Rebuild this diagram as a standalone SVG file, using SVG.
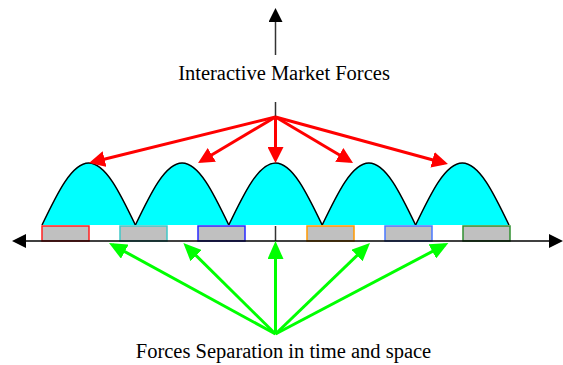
<svg xmlns="http://www.w3.org/2000/svg" width="563" height="365" viewBox="0 0 563 365">
<style>
.hump{fill:#00FFFF;stroke:#000;stroke-width:1.5}
.box{fill:#C0C0C0;stroke-width:1.5}
.lbl{font-family:"Liberation Serif","Times New Roman",serif;font-size:20.5px;fill:#000;text-anchor:middle}
.red{stroke:#FF0000;stroke-width:3;fill:none;marker-end:url(#ar)}
.grn{stroke:#00FF00;stroke-width:3;fill:none;marker-end:url(#ag)}
.blk{stroke:#333;stroke-width:1.5;fill:none}
</style>
<defs>
<marker id="ar" markerUnits="userSpaceOnUse" viewBox="0 0 16 16" markerWidth="16" markerHeight="16" refX="12" refY="8" orient="auto"><path d="M0,0 L16,8 L0,16 z" fill="#FF0000"/></marker>
<marker id="ag" markerUnits="userSpaceOnUse" viewBox="0 0 18 16" markerWidth="18" markerHeight="16" refX="14" refY="8" orient="auto"><path d="M0,0 L18,8 L0,16 z" fill="#00FF00"/></marker>
<marker id="ab" markerUnits="userSpaceOnUse" viewBox="0 0 14 14" markerWidth="14" markerHeight="14" refX="10" refY="7" orient="auto"><path d="M0,0 L14,7 L0,14 z" fill="#000"/></marker>
</defs>
<rect width="563" height="365" fill="#fff"/>
<g id="humps">
<path class="hump" d="M42,225 C57.23,193.24 71.8,163 88.7,163 C105.6,163 120.17,193.24 135.4,225"/>
<path class="hump" d="M135.4,225 C150.63,193.24 165.2,163 182.1,163 C199,163 213.57,193.24 228.8,225"/>
<path class="hump" d="M228.8,225 C244.03,193.24 258.6,163 275.5,163 C292.4,163 306.97,193.24 322.2,225"/>
<path class="hump" d="M322.2,225 C337.43,193.24 352,163 368.9,163 C385.8,163 400.37,193.24 415.6,225"/>
<path class="hump" d="M415.6,225 C430.83,193.24 445.4,163 462.3,163 C479.2,163 493.77,193.24 509,225"/>
</g>
<g id="boxes">
<rect class="box" x="42" y="226" width="47" height="15" stroke="#FF2020"/>
<rect class="box" x="120" y="226" width="47" height="15" stroke="#40C8C8"/>
<rect class="box" x="198" y="226" width="47" height="15" stroke="#2828FF"/>
<rect class="box" x="307" y="226" width="47" height="15" stroke="#FF9900"/>
<rect class="box" x="385" y="226" width="47" height="15" stroke="#4A78FF"/>
<rect class="box" x="463" y="226" width="47" height="15" stroke="#309030"/>
</g>
<g id="axis">
<line class="blk" x1="275.5" y1="226" x2="275.5" y2="241"/>
<line x1="275" y1="241" x2="16" y2="241" stroke="#000" stroke-width="1.5" marker-end="url(#ab)"/>
<line x1="275" y1="241" x2="559" y2="241" stroke="#000" stroke-width="1.5" marker-end="url(#ab)"/>
</g>
<g id="top-label">
<line class="blk" x1="275.5" y1="55" x2="275.5" y2="12" marker-end="url(#ab)"/>
<text class="lbl" x="284" y="80">Interactive Market Forces</text>
<line class="blk" x1="275.5" y1="102" x2="275.5" y2="117"/>
</g>
<g id="bottom-label">
<text class="lbl" x="283.5" y="358">Forces Separation in time and space</text>
</g>
<g id="connectors">
<line class="red" x1="275.5" y1="117" x2="92.9" y2="162"/>
<line class="red" x1="275.5" y1="117" x2="201.5" y2="161"/>
<line class="red" x1="275.5" y1="117" x2="275.5" y2="159"/>
<line class="red" x1="275.5" y1="117" x2="349.6" y2="161"/>
<line class="red" x1="275.5" y1="117" x2="444.1" y2="163"/>
<line class="grn" x1="275.5" y1="334" x2="112.5" y2="244.9"/>
<line class="grn" x1="275.5" y1="334" x2="186.2" y2="245.8"/>
<line class="grn" x1="275.5" y1="334" x2="275.5" y2="245"/>
<line class="grn" x1="275.5" y1="334" x2="367.1" y2="245.8"/>
<line class="grn" x1="275.5" y1="334" x2="444.8" y2="244.9"/>
</g>
</svg>
